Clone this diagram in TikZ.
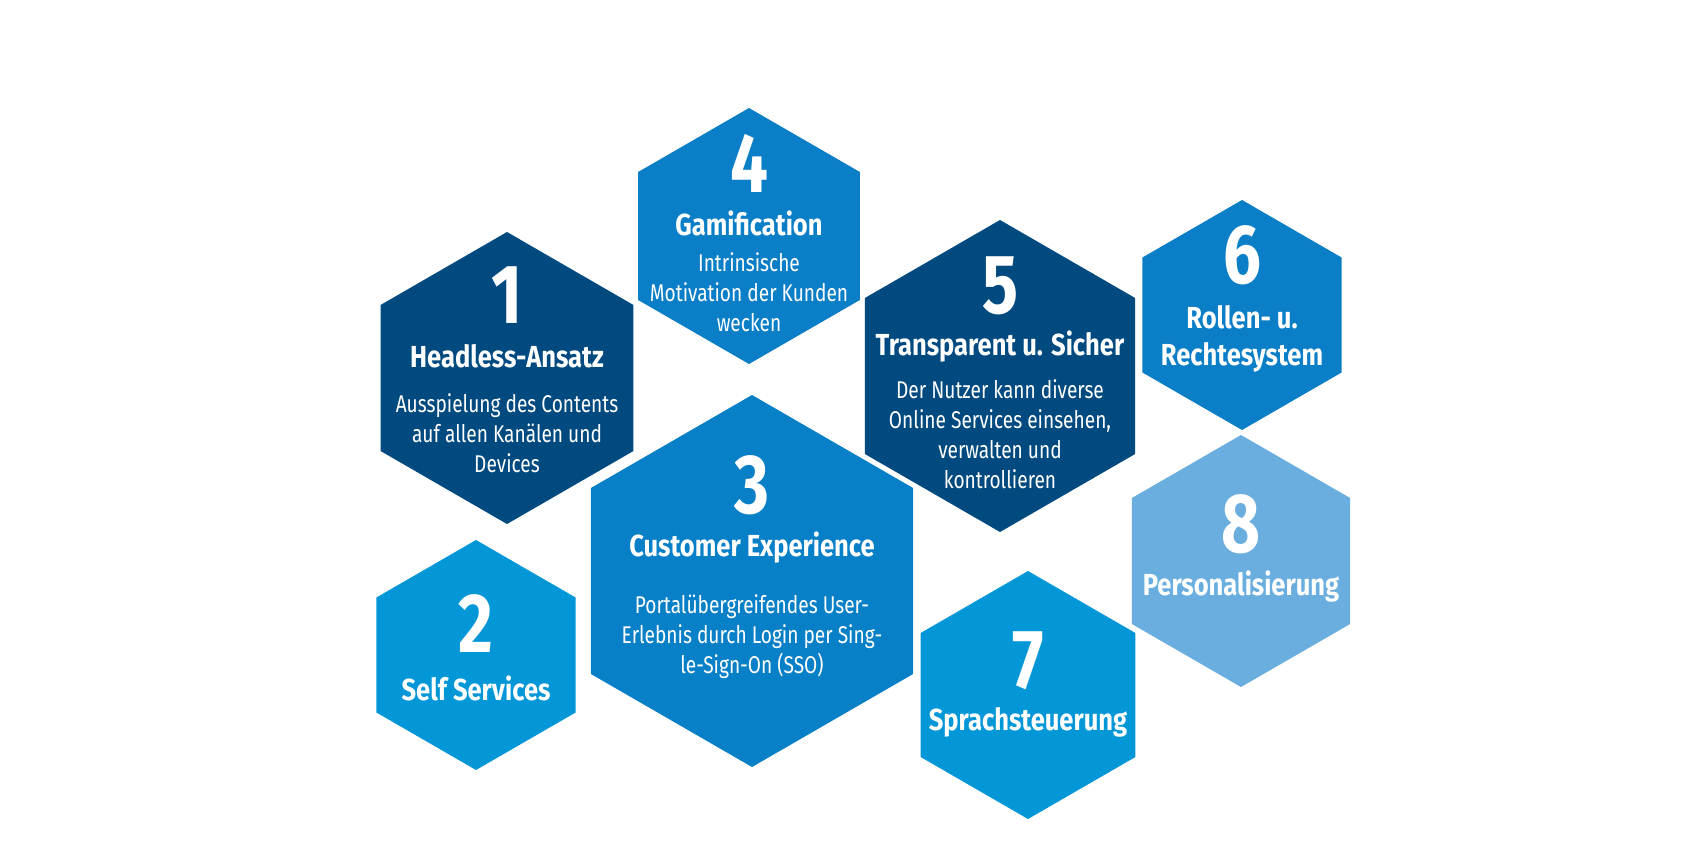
\documentclass[tikz,border=0pt]{standalone}
\usepackage{fontspec}
\setmainfont[FakeStretch=0.79]{Fira Sans}
\newfontfamily\headfont[FakeStretch=0.84]{Fira Sans}
\newfontfamily\numfont[FakeStretch=0.8]{Fira Sans}
\usepackage{tikz}
\usetikzlibrary{shapes.geometric}

\definecolor{navyblue}{HTML}{004A80}
\definecolor{midblue}{HTML}{0A7EC6}
\definecolor{coreblue}{HTML}{0880C8}
\definecolor{skyblue}{HTML}{0497D8}
\definecolor{paleblue}{HTML}{6AAEDF}

\begin{document}
\begin{tikzpicture}[
    x=0.5pt, y=-0.5pt,
    hexa/.style={regular polygon, regular polygon sides=6, shape border rotate=30, inner sep=0pt, outer sep=0pt},
    num/.style={anchor=base, inner sep=0pt, text=white, font=\numfont\bfseries\fontsize{42}{42}\selectfont},
    head/.style={anchor=base, inner sep=0pt, text=white, align=center, font=\headfont\bfseries\fontsize{15.2}{18.5}\selectfont},
    desc/.style={anchor=base, inner sep=0pt, text=white, align=center, font=\fontsize{12.1}{15}\selectfont},
]
\useasboundingbox (0,0) rectangle (1700,850);

% hexagons
\node[hexa, fill=navyblue, minimum size=146pt] (hexHeadless) at (507,378) {};
\node[hexa, fill=midblue, minimum size=128pt] (hexGamification) at (749,236) {};
\node[hexa, fill=navyblue, minimum size=156pt] (hexTransparent) at (1000,376) {};
\node[hexa, fill=midblue, minimum size=115pt] (hexRollen) at (1242,315) {};
\node[hexa, fill=paleblue, minimum size=126pt] (hexPersonal) at (1241,561) {};
\node[hexa, fill=skyblue, minimum size=124pt] (hexSprache) at (1028,695) {};
\node[hexa, fill=coreblue, minimum size=186pt] (hexCustomer) at (752,581) {};
\node[hexa, fill=skyblue, minimum size=115pt] (hexSelf) at (476,655) {};

% 1 (multi-line texts sit on their last baseline)
\node[num] (numHeadless) at (507,323) {1};
\node[head] (headHeadless) at (507,367) {Headless-Ansatz};
\node[desc] (descHeadless) at (507,472) {Ausspielung des Contents\\auf allen Kanälen und\\Devices};
% 4
\node[num] (numGamification) at (749,192) {4};
\node[head] (headGamification) at (749,235) {Gamification};
\node[desc] (descGamification) at (749,331) {Intrinsische\\Motivation der Kunden\\wecken};
% 5
\node[num] (numTransparent) at (1000,313) {5};
\node[head] (headTransparent) at (1000,355) {Transparent u. Sicher};
\node[desc] (descTransparent) at (1000,488) {Der Nutzer kann diverse\\Online Services einsehen,\\verwalten und\\kontrollieren};
% 6
\node[num] (numRollen) at (1242,283) {6};
\node[head] (headRollen) at (1242,365) {Rollen- u.\\Rechtesystem};
% 8
\node[num] (numPersonal) at (1241,552) {8};
\node[head] (headPersonal) at (1241,595) {Personalisierung};
% 7
\node[num] (numSprache) at (1028,688) {7};
\node[head] (headSprache) at (1028,730) {Sprachsteuerung};
% 3
\node[num] (numCustomer) at (752,513) {3};
\node[head] (headCustomer) at (752,556) {Customer Experience};
\node[desc] (descCustomer) at (752,673) {Portalübergreifendes User-\\Erlebnis durch Login per Sing-\\le-Sign-On (SSO)};
% 2
\node[num] (numSelf) at (476,652) {2};
\node[head] (headSelf) at (476,700) {Self Services};
\end{tikzpicture}
\end{document}
